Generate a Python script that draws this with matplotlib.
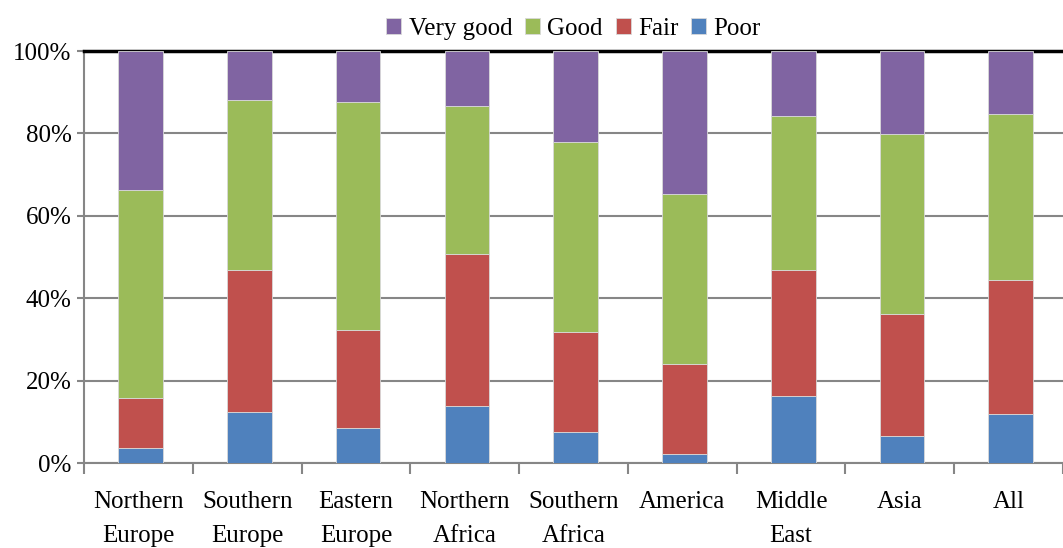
import numpy as np
import matplotlib
matplotlib.use('Agg')
import matplotlib.pyplot as plt

plt.rcParams['font.family'] = ['Liberation Serif', 'DejaVu Serif']

regions = ["Northern\nEurope", "Southern\nEurope", "Eastern\nEurope", "Northern\nAfrica",
           "Southern\nAfrica", "America", "Middle\nEast", "Asia", "All"]
poor = [3.6, 12.4, 8.5, 13.8, 7.5, 2.2, 16.3, 6.6, 11.9]
fair = [12.2, 34.4, 23.8, 36.9, 24.3, 21.8, 30.5, 29.6, 32.5]
good = [50.5, 41.3, 55.3, 36.0, 46.1, 41.3, 37.4, 43.7, 40.3]
very_good = [33.7, 11.9, 12.4, 13.3, 22.1, 34.7, 15.8, 20.1, 15.3]

colors = {"Poor": "#4F81BD", "Fair": "#C0504D", "Good": "#9BBB59", "Very good": "#8064A2"}

fig = plt.figure(figsize=(10.63, 5.48), dpi=100)
ax = fig.add_axes([84/1063, 85/548, 979/1063, 412/548])

x = np.arange(len(regions))
w = 0.41
bottom = np.zeros(len(regions))
bars = {}
for name, vals in [("Poor", poor), ("Fair", fair), ("Good", good), ("Very good", very_good)]:
    bars[name] = ax.bar(x + 0.02, vals, w, bottom=bottom, color=colors[name],
                        edgecolor='#d9d9d9', linewidth=0.6, zorder=3)
    bottom += np.array(vals)

ax.set_xlim(-0.5, len(regions) - 0.5)
ax.set_ylim(0, 100)
ax.set_yticks(np.arange(0, 101, 20))
ax.set_yticklabels([f"{v}%" for v in range(0, 101, 20)], fontsize=18)
ax.yaxis.grid(True, color='#868686', linewidth=1.5, zorder=0)
ax.tick_params(axis='y', length=5, color='#868686', width=1.5, pad=4)

ax.set_xticks(x)
ax.set_xticklabels(regions, fontsize=18, linespacing=1.7)
ax.set_xticks(np.arange(-0.5, len(regions)), minor=True)
ax.tick_params(axis='x', which='major', length=0, pad=20)
ax.tick_params(axis='x', which='minor', length=8, color='#868686', width=1.5)

ax.spines['right'].set_visible(False)
ax.spines['left'].set_color('#868686')
ax.spines['left'].set_linewidth(1.5)
ax.spines['bottom'].set_color('#868686')
ax.spines['bottom'].set_linewidth(1.5)
ax.spines['top'].set_color('black')
ax.spines['top'].set_linewidth(2.5)

order = ["Very good", "Good", "Fair", "Poor"]
ax.legend([bars[n] for n in order], order, loc='lower center', bbox_to_anchor=(0.5, 1.0),
          ncol=4, frameon=False, fontsize=18, handlelength=0.6, handleheight=0.6,
          handletextpad=0.3, columnspacing=0.5, borderaxespad=0.05)

fig.savefig('out.png', dpi=100)
